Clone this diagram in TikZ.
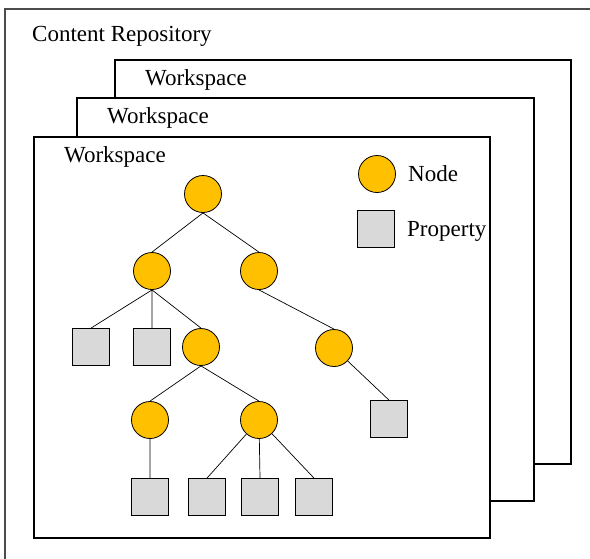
\documentclass[tikz,border=0pt]{standalone}
\usepackage{fontspec}
\setmainfont{Liberation Serif}
\definecolor{nodefill}{HTML}{FFC000}
\definecolor{propfill}{HTML}{D9D9D9}
\begin{document}
\begin{tikzpicture}[x=1pt,y=-1pt,
  jcrnode/.style={circle,draw,line width=0.8pt,fill=nodefill,minimum size=37pt,inner sep=0pt},
  jcrprop/.style={rectangle,draw,line width=0.8pt,fill=propfill,minimum size=37pt,inner sep=0pt},
  wsbox/.style={draw,line width=1.2pt,fill=white},
  lbl/.style={anchor=base west,inner sep=0pt,font=\fontsize{23}{27}\selectfont}]
\useasboundingbox (0,0) rectangle (590,558);
\clip (0,0) rectangle (590,558);

% repository and the three workspaces
\draw[line width=1.2pt,black!70] (5,9) rectangle (640,620);
\node[lbl] (repo) at (32,41) {Content Repository};

\draw[wsbox] (115,60) rectangle (571,464);
\node[lbl] (ws3) at (145,85) {Workspace};
\draw[wsbox] (77,98) rectangle (534,501);
\node[lbl] (ws2) at (107,123) {Workspace};
\draw[wsbox] (34,137) rectangle (490,538);
\node[lbl] (ws1) at (64,162) {Workspace};

% legend
\node[jcrnode] (legn) at (377,174) {};
\node[lbl] (legnt) at (408,181) {Node};
\node[jcrprop] (legp) at (376,229) {};
\node[lbl] (legpt) at (407,236) {Property};

% tree
\node[jcrnode] (root) at (203,194) {};
\node[jcrnode] (n1) at (152,271) {};
\node[jcrnode] (n2) at (259,271) {};
\node[jcrnode] (n3) at (201,347) {};
\node[jcrnode] (n4) at (334,348) {};
\node[jcrnode] (n5) at (150,420) {};
\node[jcrnode] (n6) at (259,420) {};

\node[jcrprop] (p1) at (91,347) {};
\node[jcrprop] (p2) at (152,347) {};
\node[jcrprop] (p3) at (389,419) {};
\node[jcrprop] (p4) at (150,497) {};
\node[jcrprop] (p5) at (207,497) {};
\node[jcrprop] (p6) at (260,497) {};
\node[jcrprop] (p7) at (314,497) {};

\draw[line width=0.7pt] (root.south)--(n1.north) (root.south)--(n2.north) (n2.south)--(n4.north)
  (n1.south)--(n3.north) (n3.south)--(n5.north) (n3.south)--(n6.north);
\draw[line width=0.7pt] (n1.south)--(p1.north) (n1.south)--(p2.north) (n4)--(p3.north) (n5)--(p4.north)
  (n6)--(p5.north) (n6)--(p6.north) (n6)--(p7.north);
\end{tikzpicture}
\end{document}
